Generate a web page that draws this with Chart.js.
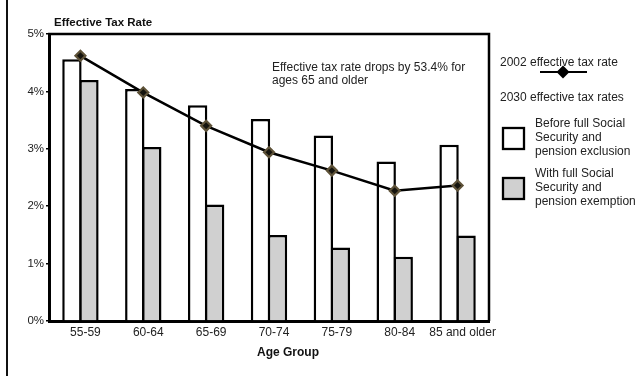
<!DOCTYPE html>
<html>
<head>
<meta charset="utf-8">
<script src="https://cdn.jsdelivr.net/npm/chart.js@4/dist/chart.umd.min.js"></script>
<style>
  html, body { margin: 0; padding: 0; background: #fff; }
  #wrap { width: 642px; height: 376px; position: relative; }
</style>
</head>
<body>
<div id="wrap"><canvas id="c" width="642" height="376"></canvas></div>
<script>
// Age groups on the category axis
const ageGroups = ['55-59', '60-64', '65-69', '70-74', '75-79', '80-84', '85 and older'];
// 2002 effective tax rate (%)
const rate2002 = [4.62, 3.98, 3.40, 2.94, 2.62, 2.27, 2.36];
// 2030 effective tax rates (%)
const rate2030Before = [4.56, 4.04, 3.76, 3.52, 3.23, 2.78, 3.07];
const rate2030With = [4.20, 3.03, 2.03, 1.50, 1.28, 1.12, 1.49];
// Y axis tick values (%)
const yTicks = [0, 1, 2, 3, 4, 5];

const FONT = '"Liberation Sans", Arial, Helvetica, sans-serif';
const TEXT = '#222';

// Frame, titles, note and the side legend drawn around the plot
const decorations = {
  id: 'decorations',
  beforeDraw(chart) {
    const ctx = chart.ctx;
    ctx.save();
    ctx.fillStyle = '#fff';
    ctx.fillRect(0, 0, chart.width, chart.height);
    ctx.fillStyle = '#111';
    ctx.fillRect(6, 0, 2, chart.height);
    ctx.restore();
  },
  afterDraw(chart) {
    const ctx = chart.ctx;
    const a = chart.chartArea;
    ctx.save();
    // top and right edges of the plot box
    ctx.strokeStyle = '#000';
    ctx.lineWidth = 2.5;
    ctx.beginPath();
    ctx.moveTo(a.left - 1, a.top);
    ctx.lineTo(a.right, a.top);
    ctx.lineTo(a.right, a.bottom);
    ctx.stroke();

    ctx.fillStyle = '#111';
    ctx.textBaseline = 'middle';
    ctx.textAlign = 'left';
    ctx.font = 'bold 11.5px ' + FONT;
    ctx.fillText('Effective Tax Rate', 54, 22.5);

    ctx.textAlign = 'center';
    ctx.font = 'bold 12px ' + FONT;
    ctx.fillText('Age Group', 288, 352.5);

    ctx.textAlign = 'left';
    ctx.fillStyle = TEXT;
    ctx.font = '12px ' + FONT;
    ctx.fillText('Effective tax rate drops by 53.4% for', 272, 68);
    ctx.fillText('ages 65 and older', 272, 80.5);

    // legend
    ctx.fillText('2002 effective tax rate', 500, 63);
    ctx.strokeStyle = '#000';
    ctx.lineWidth = 2;
    ctx.beginPath();
    ctx.moveTo(540, 72);
    ctx.lineTo(587, 72);
    ctx.stroke();
    ctx.fillStyle = '#000';
    ctx.beginPath();
    ctx.moveTo(563, 65.5);
    ctx.lineTo(569.5, 72);
    ctx.lineTo(563, 78.5);
    ctx.lineTo(556.5, 72);
    ctx.closePath();
    ctx.fill();

    ctx.fillStyle = TEXT;
    ctx.fillText('2030 effective tax rates', 500, 98);

    ctx.lineWidth = 2.3;
    ctx.strokeStyle = '#000';
    ctx.fillStyle = '#fff';
    ctx.fillRect(503, 128, 21, 21);
    ctx.strokeRect(503, 128, 21, 21);
    ctx.fillStyle = '#d0d0d0';
    ctx.fillRect(503, 178, 21, 21);
    ctx.strokeRect(503, 178, 21, 21);

    ctx.fillStyle = TEXT;
    ctx.fillText('Before full Social', 535, 124);
    ctx.fillText('Security and', 535, 137.5);
    ctx.fillText('pension exclusion', 535, 151.5);
    ctx.fillText('With full Social', 535, 174);
    ctx.fillText('Security and', 535, 188);
    ctx.fillText('pension exemption', 535, 202);
    ctx.restore();
  }
};

new Chart(document.getElementById('c'), {
  data: {
    labels: ageGroups,
    datasets: [
      {
        type: 'line',
        label: '2002 effective tax rate',
        data: rate2002,
        order: 0,
        borderColor: '#000',
        borderWidth: 2.5,
        pointStyle: 'rectRot',
        pointRadius: 5,
        pointBackgroundColor: '#15140e',
        pointBorderColor: '#5e5238',
        pointBorderWidth: 2.2,
        tension: 0
      },
      {
        type: 'bar',
        label: 'Before full Social Security and pension exclusion',
        data: rate2030Before,
        order: 1,
        backgroundColor: '#fff',
        borderColor: '#000',
        borderWidth: 2.5,
        borderSkipped: 'bottom',
        categoryPercentage: 0.541,
        barPercentage: 1.14
      },
      {
        type: 'bar',
        label: 'With full Social Security and pension exemption',
        data: rate2030With,
        order: 2,
        backgroundColor: '#d0d0d0',
        borderColor: '#000',
        borderWidth: 2.5,
        borderSkipped: 'bottom',
        categoryPercentage: 0.541,
        barPercentage: 1.14
      }
    ]
  },
  options: {
    responsive: false,
    animation: false,
    devicePixelRatio: 1,
    layout: { padding: { left: 0, right: 153, top: 34, bottom: 0 } },
    plugins: {
      legend: { display: false },
      tooltip: { enabled: false },
      title: { display: false }
    },
    scales: {
      x: {
        offset: true,
        grid: { display: false, drawTicks: false },
        border: { display: true, color: '#000', width: 3 },
        ticks: {
          color: TEXT,
          font: { family: FONT, size: 12 },
          padding: 4,
          labelOffset: 5,
          maxRotation: 0,
          autoSkip: false
        },
        afterFit(scale) { scale.height = 55; }
      },
      y: {
        min: 0,
        max: 5,
        afterBuildTicks(scale) { scale.ticks = yTicks.map(v => ({ value: v })); },
        grid: { display: true, drawOnChartArea: false, drawTicks: true, tickLength: 3, color: '#000', lineWidth: 1.5 },
        border: { display: true, color: '#000', width: 3 },
        ticks: {
          color: TEXT,
          font: { family: FONT, size: 11.5 },
          padding: 2,
          callback: v => v + '%'
        },
        afterFit(scale) { scale.width = 49; }
      }
    }
  },
  plugins: [decorations]
});
</script>
</body>
</html>
